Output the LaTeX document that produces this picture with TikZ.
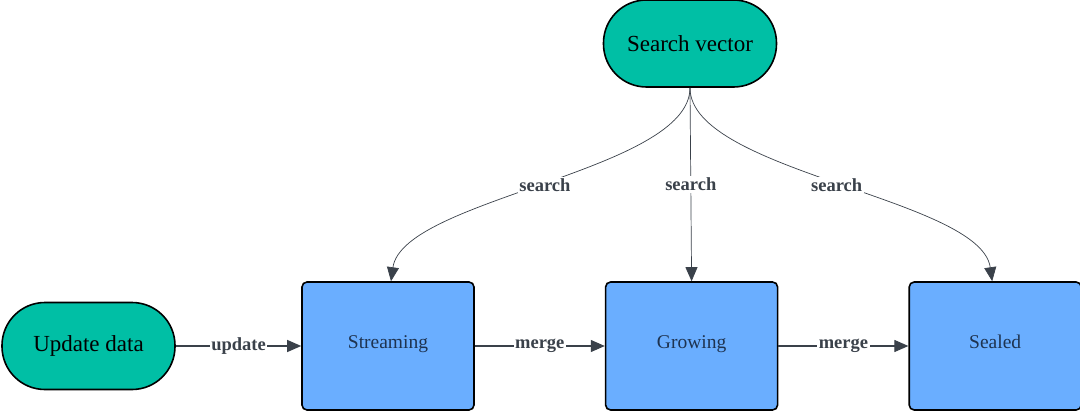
\documentclass[tikz,border=0pt]{standalone}
\usepackage{fontspec}
\setmainfont{Liberation Serif}
\usepackage{tikz}
\usetikzlibrary{arrows.meta,positioning}
\definecolor{VTeal}{HTML}{00BFA5}
\definecolor{VBlue}{HTML}{6AAEFF}
\definecolor{VInk}{HTML}{1E3350}
\definecolor{VLine}{HTML}{3A414A}

\begin{document}
\begin{tikzpicture}[
  x=1pt,y=1pt,
  node distance=130pt,
  term/.style={draw=black,line width=1.6pt,fill=VTeal,rounded corners=43pt,
    minimum width=173pt,minimum height=87pt,font=\fontsize{23}{26}\selectfont},
  block/.style={draw=black,line width=1.6pt,fill=VBlue,rounded corners=5pt,
    minimum width=172pt,minimum height=128pt,text=VInk,text height=0.7em,text depth=0.22em,
    font=\fontsize{19.5}{22}\selectfont},
  arrow/.style={-{Triangle[length=14pt,width=12pt]},line width=1.1pt,color=VLine},
  curved/.style={-{Triangle[length=14pt,width=12pt]},line width=0.7pt,color=VLine},
  lbl/.style={fill=white,inner sep=1.5pt,text=VLine,font=\bfseries\fontsize{18.5}{20}\selectfont}
]
  \useasboundingbox (0,0) rectangle (1080,-412);

  \node[term] (search) at (690,-43.5) {Search vector};
  \node[term] (update) at (88.5,-346) {Update data};

  \node[block] (streaming) at (388,-346) {Streaming};
  \node[block,right=of streaming] (growing) {Growing};
  \node[block,right=of growing] (sealed) {Sealed};

  \draw[arrow] (update)--node[lbl]{update}(streaming);
  \draw[arrow] (streaming)--node[lbl]{merge}(growing);
  \draw[arrow] (growing)--node[lbl]{merge}(sealed);

  \draw[curved] (search.south) to[out=-90,in=82,looseness=0.6] node[lbl]{search} ([xshift=3pt]streaming.north);
  \draw[curved] (search.south)--node[lbl]{search}(growing.north);
  \draw[curved] (search.south) to[out=-90,in=98,looseness=0.6] node[lbl]{search} ([xshift=-3pt]sealed.north);
\end{tikzpicture}
\end{document}
